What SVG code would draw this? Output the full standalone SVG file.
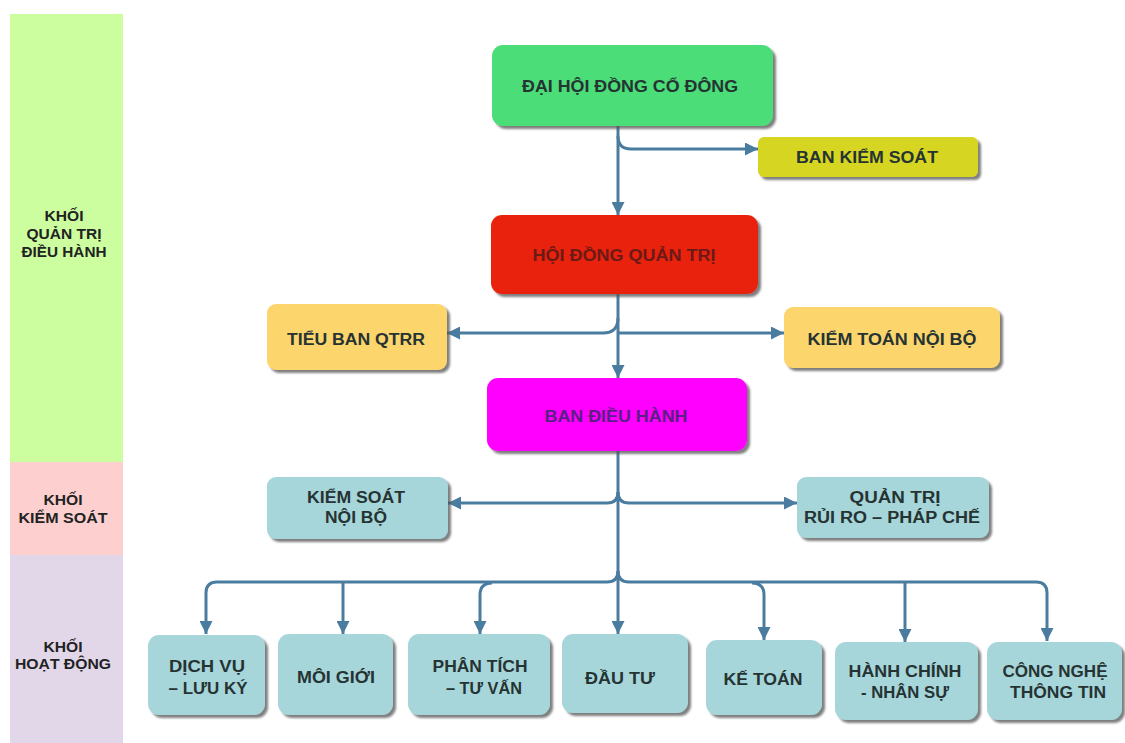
<svg xmlns="http://www.w3.org/2000/svg" width="1125" height="743" viewBox="0 0 1125 743">
<style>
.t{font-family:"Liberation Sans",Arial,sans-serif;font-weight:bold;text-anchor:middle;fill:#263333}
.m{font-size:16px}
.b{font-size:17px}
.l{font-size:14px;fill:#222}
.box{filter:url(#sh)}
.c{fill:none;stroke:#4a7ca0;stroke-width:3}
.a{marker-end:url(#ar)}
</style>
<defs>
<filter id="sh" x="-5%" y="-5%" width="115%" height="125%">
<feDropShadow dx="3" dy="3" stdDeviation="1" flood-color="#555" flood-opacity="0.75"/>
</filter>
<marker id="ar" viewBox="0 0 13 13" refX="13" refY="6.5" markerWidth="13" markerHeight="13" markerUnits="userSpaceOnUse" orient="auto">
<path d="M0,0 L13,6.5 L0,13 z" fill="#4a7ca0"/>
</marker>
</defs>
<rect width="1125" height="743" fill="#fff"/>

<g id="khoi-quan-tri">
<rect x="10" y="14" width="113" height="448" fill="#ccfd9e"/>
<text class="t l" x="64" y="221" textLength="39" lengthAdjust="spacingAndGlyphs">KHỐI</text>
<text class="t l" x="64" y="239" textLength="75" lengthAdjust="spacingAndGlyphs">QUẢN TRỊ</text>
<text class="t l" x="64" y="257" textLength="85" lengthAdjust="spacingAndGlyphs">ĐIỀU HÀNH</text>
</g>
<g id="khoi-kiem-soat">
<rect x="10" y="462" width="113" height="93" fill="#fdd0cf"/>
<text class="t l" x="63" y="505" textLength="39" lengthAdjust="spacingAndGlyphs">KHỐI</text>
<text class="t l" x="63" y="523" textLength="89" lengthAdjust="spacingAndGlyphs">KIỂM SOÁT</text>
</g>
<g id="khoi-hoat-dong">
<rect x="10" y="555" width="113" height="188" fill="#e1d7e8"/>
<text class="t l" x="63" y="652" textLength="39" lengthAdjust="spacingAndGlyphs">KHỐI</text>
<text class="t l" x="63" y="669" textLength="96" lengthAdjust="spacingAndGlyphs">HOẠT ĐỘNG</text>
</g>

<g id="connectors">
<path class="c a" d="M618,126 V215"/>
<path class="c a" d="M618,136 Q618,149 631,149 H758"/>
<path class="c a" d="M618,294 V378"/>
<path class="c a" d="M618,318 Q618,333 603,333 H447"/>
<path class="c a" d="M618,333 H784"/>
<path class="c" d="M618,451 V582"/>
<path class="c a" d="M618,492 Q618,503 607,503 H448"/>
<path class="c a" d="M618,492 Q618,503 629,503 H797"/>
<path class="c a" d="M618,571 Q618,582 607,582 H217 Q206,582 206,593 V634"/>
<path class="c a" d="M618,571 Q618,582 629,582 H1036 Q1047,582 1047,593 V641"/>
<path class="c a" d="M343,582 V634"/>
<path class="c a" d="M492,583 Q480,583 480,595 V634"/>
<path class="c a" d="M618,582 V634"/>
<path class="c a" d="M752,583 Q764,583 764,595 V640"/>
<path class="c a" d="M905,582 V642"/>
</g>

<g id="dai-hoi-dong-co-dong">
<rect class="box" x="492" y="45" width="281" height="81" rx="11" fill="#4cdd78"/>
<text class="t m" x="630" y="92" textLength="216" lengthAdjust="spacingAndGlyphs" fill="#1e3a2c">ĐẠI HỘI ĐỒNG CỔ ĐÔNG</text>
</g>
<g id="ban-kiem-soat">
<rect class="box" x="758" y="137" width="220" height="40" rx="6" fill="#d6d624"/>
<text class="t m" x="867" y="163" textLength="142" lengthAdjust="spacingAndGlyphs">BAN KIỂM SOÁT</text>
</g>
<g id="hoi-dong-quan-tri">
<rect class="box" x="491" y="215" width="267" height="79" rx="11" fill="#e8230f"/>
<text class="t m" x="624" y="261" textLength="183" lengthAdjust="spacingAndGlyphs" style="fill:#6b1a16">HỘI ĐỒNG QUẢN TRỊ</text>
</g>
<g id="tieu-ban-qtrr">
<rect class="box" x="267" y="304" width="180" height="66" rx="9" fill="#fcd56c"/>
<text class="t m" x="356" y="345" textLength="138" lengthAdjust="spacingAndGlyphs">TIỂU BAN QTRR</text>
</g>
<g id="kiem-toan-noi-bo">
<rect class="box" x="784" y="307" width="216" height="61" rx="9" fill="#fcd56c"/>
<text class="t m" x="892" y="345" textLength="169" lengthAdjust="spacingAndGlyphs">KIỂM TOÁN NỘI BỘ</text>
</g>
<g id="ban-dieu-hanh">
<rect class="box" x="487" y="378" width="260" height="73" rx="11" fill="#ff00ff"/>
<text class="t m" x="616" y="422" textLength="143" lengthAdjust="spacingAndGlyphs" style="fill:#5b1f86">BAN ĐIỀU HÀNH</text>
</g>
<g id="kiem-soat-noi-bo">
<rect class="box" x="267" y="477" width="181" height="62" rx="9" fill="#a6d6da"/>
<text class="t m" x="356" y="503" textLength="98" lengthAdjust="spacingAndGlyphs">KIỂM SOÁT</text>
<text class="t m" x="356" y="523" textLength="62" lengthAdjust="spacingAndGlyphs">NỘI BỘ</text>
</g>
<g id="quan-tri-rui-ro">
<rect class="box" x="797" y="477" width="192" height="61" rx="9" fill="#a6d6da"/>
<text class="t m" x="895" y="503" textLength="91" lengthAdjust="spacingAndGlyphs">QUẢN TRỊ</text>
<text class="t m" x="892" y="523" textLength="176" lengthAdjust="spacingAndGlyphs">RỦI RO – PHÁP CHẾ</text>
</g>

<g id="dich-vu-luu-ky">
<rect class="box" x="148" y="635" width="117" height="80" rx="11" fill="#a6d6da"/>
<text class="t b" x="207" y="672" textLength="76" lengthAdjust="spacingAndGlyphs">DỊCH VỤ</text>
<text class="t b" x="208" y="694" textLength="79" lengthAdjust="spacingAndGlyphs">– LƯU KÝ</text>
</g>
<g id="moi-gioi">
<rect class="box" x="278" y="634" width="115" height="81" rx="11" fill="#a6d6da"/>
<text class="t b" x="336" y="683" textLength="78" lengthAdjust="spacingAndGlyphs">MÔI GIỚI</text>
</g>
<g id="phan-tich-tu-van">
<rect class="box" x="408" y="634" width="142" height="81" rx="11" fill="#a6d6da"/>
<text class="t b" x="480" y="672" textLength="95" lengthAdjust="spacingAndGlyphs">PHÂN TÍCH</text>
<text class="t b" x="484" y="694" textLength="76" lengthAdjust="spacingAndGlyphs">– TƯ VẤN</text>
</g>
<g id="dau-tu">
<rect class="box" x="562" y="634" width="126" height="79" rx="11" fill="#a6d6da"/>
<text class="t b" x="620" y="684" textLength="70" lengthAdjust="spacingAndGlyphs">ĐẦU TƯ</text>
</g>
<g id="ke-toan">
<rect class="box" x="706" y="640" width="116" height="75" rx="11" fill="#a6d6da"/>
<text class="t b" x="763" y="685" textLength="79" lengthAdjust="spacingAndGlyphs">KẾ TOÁN</text>
</g>
<g id="hanh-chinh-nhan-su">
<rect class="box" x="835" y="642" width="143" height="78" rx="11" fill="#a6d6da"/>
<text class="t b" x="905" y="677" textLength="113" lengthAdjust="spacingAndGlyphs">HÀNH CHÍNH</text>
<text class="t b" x="905" y="698" textLength="88" lengthAdjust="spacingAndGlyphs">- NHÂN SỰ</text>
</g>
<g id="cong-nghe-thong-tin">
<rect class="box" x="987" y="642" width="135" height="78" rx="11" fill="#a6d6da"/>
<text class="t b" x="1055" y="677" textLength="105" lengthAdjust="spacingAndGlyphs">CÔNG NGHỆ</text>
<text class="t b" x="1058" y="698" textLength="96" lengthAdjust="spacingAndGlyphs">THÔNG TIN</text>
</g>
</svg>
